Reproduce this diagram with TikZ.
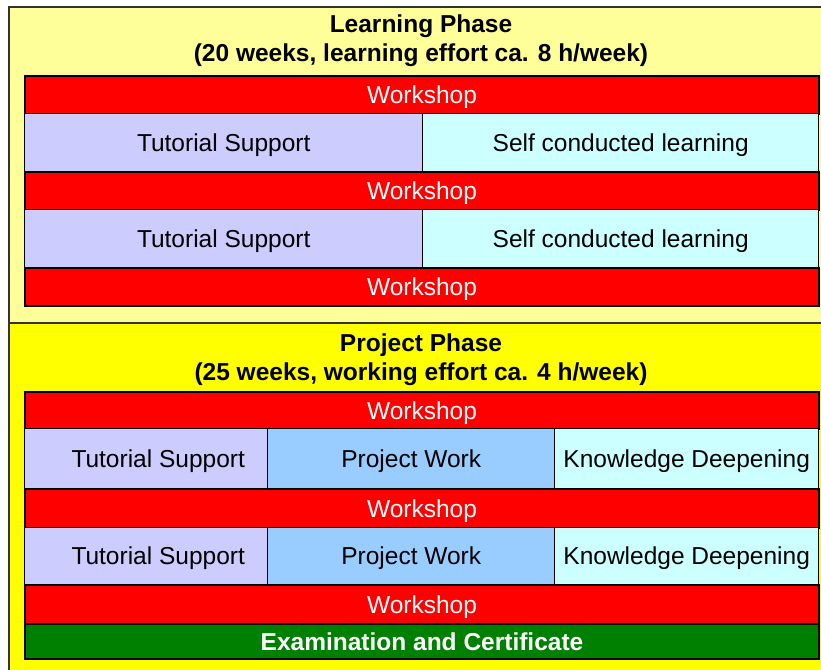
\documentclass[tikz,border=0pt]{standalone}
\usepackage{fontspec}
\setmainfont{Liberation Sans}
\definecolor{lyellow}{HTML}{FFFF99}
\definecolor{pyellow}{HTML}{FFFF00}
\definecolor{wred}{HTML}{FF0000}
\definecolor{tutc}{HTML}{CCCCFF}
\definecolor{selfc}{HTML}{CCFFFF}
\definecolor{projc}{HTML}{99CCFF}
\definecolor{examc}{HTML}{008000}
\begin{document}
\begin{tikzpicture}[x=1pt,y=-1pt,
  cell/.style={draw=black, line width=1.4pt, inner sep=0pt, anchor=north west,
     text height=17.5pt, text depth=0pt,
     font=\fontsize{24.5}{29}\selectfont},
  wbar/.style={cell, fill=wred, text=white, line width=2pt, minimum width=794pt},
  tutcell/.style={cell, fill=tutc},
  selfcell/.style={cell, fill=selfc},
  projcell/.style={cell, fill=projc},
  lbl/.style={text height=17.5pt, text depth=0pt, inner sep=0pt, font=\fontsize{24.5}{29}\selectfont},
  title/.style={align=center, font=\fontsize{24.5}{29}\selectfont\bfseries, inner sep=0pt}
]
\useasboundingbox (0,0) rectangle (821,669);
\clip (0,0) rectangle (821,669);
\fill[white] (0,0) rectangle (821,669);
% phase boxes
\draw[fill=lyellow, draw=black!80, line width=1.2pt] (9,7) rectangle (840,323);
\draw[fill=pyellow, draw=black!80, line width=1.2pt] (9,323) rectangle (840,690);
\node[title] (lt) at (421,41) {Learning Phase\\(20 weeks, learning effort ca. 8 h/week)};
\node[title] (pt) at (421,359.5) {Project Phase\\(25 weeks, working effort ca. 4 h/week)};
% learning phase
\node[wbar, minimum height=38pt] (lw1) at (24,75) {Workshop};
\node[tutcell, minimum width=398pt, minimum height=58pt] (lt1) at (24,113) {Tutorial Support};
\node[selfcell, minimum width=396pt, minimum height=58pt] (ls1) at (422,113) {Self conducted learning};
\node[wbar, minimum height=38pt] (lw2) at (24,171) {Workshop};
\node[tutcell, minimum width=398pt, minimum height=58pt] (lt2) at (24,209) {Tutorial Support};
\node[selfcell, minimum width=396pt, minimum height=58pt] (ls2) at (422,209) {Self conducted learning};
\node[wbar, minimum height=38pt] (lw3) at (24,267) {Workshop};
% project phase
\node[wbar, minimum height=37pt] (pw1) at (24,391) {Workshop};
\node[tutcell, minimum width=243pt, minimum height=60pt,
  label={[lbl, xshift=12pt]center:Tutorial Support}] (pt1) at (24,428) {};
\node[projcell, minimum width=287pt, minimum height=60pt] (pp1) at (267,428) {Project Work};
\node[selfcell, minimum width=264pt, minimum height=60pt] (pk1) at (554,428) {Knowledge Deepening};
\node[wbar, minimum height=39pt] (pw2) at (24,488) {Workshop};
\node[tutcell, minimum width=243pt, minimum height=57pt,
  label={[lbl, xshift=12pt]center:Tutorial Support}] (pt2) at (24,527) {};
\node[projcell, minimum width=287pt, minimum height=57pt] (pp2) at (267,527) {Project Work};
\node[selfcell, minimum width=264pt, minimum height=57pt] (pk2) at (554,527) {Knowledge Deepening};
\node[wbar, minimum height=39pt] (pw3) at (24,584) {Workshop};
\node[wbar, fill=examc, minimum height=35pt, font=\fontsize{24.5}{29}\selectfont\bfseries] (ex) at (24,623) {Examination and Certificate};
\end{tikzpicture}
\end{document}
